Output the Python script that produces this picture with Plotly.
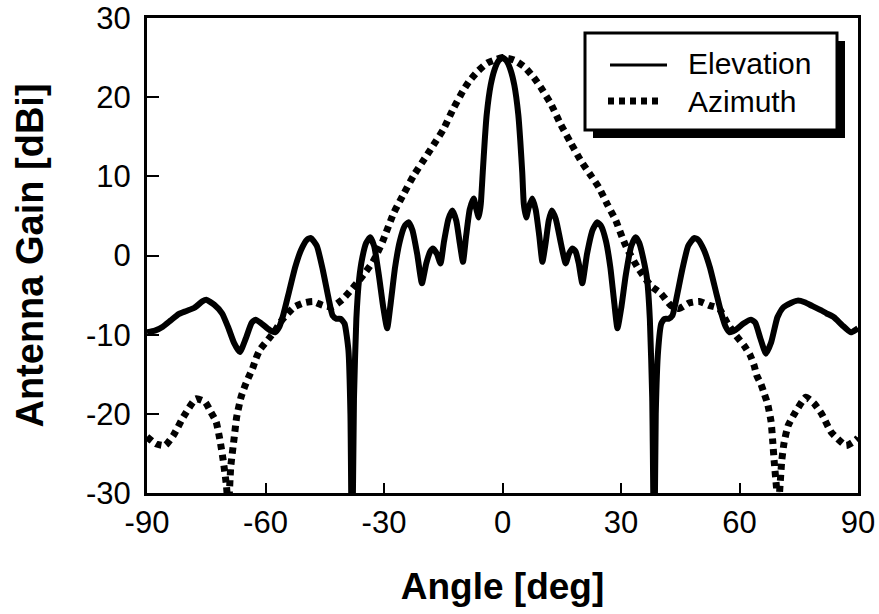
import plotly.graph_objects as go

# ---- data ----
elev_angle = [-90, -88, -86, -84, -82, -80, -78, -76, -75, -73, -71, -69.5, -68, -66.5, -65, -63.5, -62.5,
              -61, -59, -57.6, -56.5, -55.5, -54, -52.5, -51, -49.5, -48.5, -47, -45.5, -44, -43, -42, -41,
              -40, -39, -38.5, -38.1, -37.6, -37, -36.3, -35.5, -34.5, -33.5, -32.5, -31.3, -30.2, -29.2,
              -28.3, -27.2, -26, -24.8, -23.8, -22.8, -21.6, -20.4, -19.3, -18.3, -17.6, -16.6, -15.7,
              -14.8, -13.7, -12.7, -11.7, -10.8, -10.0, -9.2, -8.3, -7.3, -6.7, -6.0, -5.5, -5.0, -4.5,
              -4.0, -3.0, -2.0, -1.0, 0,
              1.0, 2.0, 3.0, 4.0, 4.5, 5.0, 5.4, 6.0, 6.6, 7.5, 8.4, 9.3, 10.1, 10.9, 11.7, 12.5, 13.5,
              14.8, 16.0, 16.8, 17.7, 18.5, 19.3, 20.2, 21.4, 22.8, 24.0, 25.0, 26.2, 27.3, 28.3, 29.1,
              30.1, 31.2, 32.6, 33.7, 34.6, 35.6, 36.6, 37.3, 37.9, 38.4, 38.8, 39.4, 40.2, 41.0, 42.0,
              43.0, 44.0, 45.5, 47.0, 48.5, 49.5, 51.0, 52.5, 54.0, 55.5, 56.5, 57.5, 59.0, 61.0, 62.9,
              64.0, 65.3, 66.7, 68.0, 69.6, 71.0, 73.0, 74.7, 76.5, 78.5, 80.6, 82.0, 83.9, 86.0, 88.2, 90]
elev_gain = [-9.7, -9.5, -9.0, -8.2, -7.4, -7.0, -6.6, -5.8, -5.6, -6.2, -7.3, -9.0, -11.0, -12.2, -10.5,
             -8.5, -8.1, -8.6, -9.4, -9.7, -9.0, -7.5, -4.5, -1.5, 0.7, 2.0, 2.2, 1.2, -1.8, -5.5, -7.6,
             -8.0, -8.0, -8.6, -12.0, -20.0, -40.0, -18.0, -8.0, -3.0, -0.3, 1.6, 2.3, 1.2, -2.5, -6.5,
             -9.2, -6.0, -1.5, 1.8, 3.7, 4.2, 3.2, 0.2, -3.5, -1.0, 0.5, 0.9, 0.2, -1.0, 1.8, 4.6, 5.7,
             4.4, 1.5, -0.8, 2.5, 5.8, 7.2, 6.0, 4.8, 6.5, 10.5, 14.5, 17.8, 21.5, 23.5, 24.6, 25.0,
             24.6, 23.5, 21.5, 17.8, 14.5, 10.5, 6.5, 4.8, 6.0, 7.2, 5.8, 2.5, -0.8, 1.5, 4.4, 5.7, 4.6,
             1.5, -1.0, 0.2, 0.9, 0.5, -1.0, -3.5, 0.2, 3.2, 4.2, 3.7, 1.8, -1.5, -6.0, -9.2, -6.5, -2.5,
             1.2, 2.3, 1.6, -0.3, -3.0, -8.0, -18.0, -40.0, -20.0, -12.0, -8.6, -8.0, -8.0, -7.6, -5.5,
             -1.8, 1.2, 2.2, 2.0, 0.7, -1.5, -4.5, -7.5, -9.0, -9.7, -9.4, -8.6, -8.1, -8.5, -10.5, -12.4,
             -11.0, -7.8, -6.6, -6.0, -5.7, -5.9, -6.4, -6.9, -7.3, -7.8, -8.8, -9.7, -9.2]

azim_angle = [-90, -87.7, -85.4, -83.3, -80.8, -77.6, -75.3, -73.8, -72.5, -71.5, -70.7, -69.9, -69.4,
              -68.8, -67.9, -67.3, -66.2, -65.3, -64.3, -63.3, -62.4, -61.4, -59.3, -57.6, -55.9, -52.7,
              -50.4, -48.0, -45.5, -43.2, -40.6, -38.4, -36.4, -34.7, -32.8, -30.4, -27.6, -25.0, -22.5,
              -19.5, -17.8, -14.9, -12.5, -10.0, -8.3, -6.2, -3.9, -1.5, 0,
              2.9, 5.6, 7.9, 9.6, 12.2, 14.7, 17.2, 19.8, 22.1, 24.4, 26.5, 28.7, 30.3, 31.6, 34.2, 37.5,
              40.1, 42.6, 44.7, 47.2, 49.8, 52.3, 54.8, 57.0, 59.1, 61.2, 62.7, 63.7, 64.4, 65.4, 66.3,
              67.1, 68.0, 68.4, 68.8, 69.4, 69.8, 70.7, 71.3, 72.3, 73.9, 76.8, 78.9, 80.8, 83.2, 87.0,
              89.5, 90]
azim_gain = [-22.9, -23.8, -24.0, -22.7, -20.4, -18.1, -18.5, -19.8, -21.0, -23.4, -25.9, -29.0, -32.0,
             -26.7, -22.9, -20.4, -17.9, -16.6, -15.4, -14.3, -13.0, -11.9, -10.6, -9.5, -8.2, -6.5,
             -6.0, -5.8, -6.3, -6.5, -5.6, -4.4, -3.2, -2.1, -0.8, 1.7, 5.3, 7.8, 10.1, 12.4, 13.7, 16.0,
             18.5, 20.8, 22.1, 23.3, 24.3, 24.8, 25.0,
             24.7, 23.8, 22.5, 21.3, 19.2, 16.6, 14.3, 12.0, 10.3, 8.6, 6.5, 4.4, 2.3, 0.8, -1.5, -3.8,
             -4.8, -6.3, -6.7, -6.0, -5.8, -6.3, -6.7, -8.6, -10.1, -11.4, -12.6, -13.9, -15.2, -16.2,
             -17.5, -18.7, -21.0, -23.4, -26.1, -29.5, -32.0, -25.9, -23.6, -21.5, -20.0, -17.9, -18.7,
             -20.0, -22.3, -24.0, -23.3, -23.0]

series_names = ["Elevation", "Azimuth"]
x_ticks = [-90, -60, -30, 0, 30, 60, 90]
x_tick_text = ["-90", "-60", "-30", "0", "30", "60", "90"]
y_ticks = [-30, -20, -10, 0, 10, 20, 30]
y_tick_text = ["-30", "-20", "-10", "0", "10", "20", "30"]

# ---- figure ----
W, H = 879, 614
L, R, T, B = 147, 21, 18, 121
PW, PH = W - L - R, H - T - B

def px(x):
    return (x - L) / PW

def py(y):
    return (H - B - y) / PH

FONT = "Liberation Sans, Arial, sans-serif"
DOT = "6px,5px"

fig = go.Figure()
fig.add_trace(go.Scatter(x=azim_angle, y=azim_gain, mode="lines", name=series_names[1],
                         line=dict(color="black", width=7, dash=DOT, shape="spline", smoothing=0.5),
                         showlegend=False))
fig.add_trace(go.Scatter(x=elev_angle, y=elev_gain, mode="lines", name=series_names[0],
                         line=dict(color="black", width=6, shape="spline", smoothing=0.5),
                         showlegend=False))

axis_common = dict(showline=True, mirror=True, linecolor="black", linewidth=3, automargin=False,
                   ticks="inside", tickcolor="black", tickwidth=2, showgrid=False, zeroline=False,
                   tickfont=dict(family=FONT, size=31, color="black"))

fig.update_xaxes(range=[-90, 90], tickvals=x_ticks, ticktext=x_tick_text, ticklen=10,
                 ticklabelstandoff=0,
                 title=dict(text="Angle [deg]", standoff=34,
                            font=dict(family=FONT, size=37, color="black", weight="bold")),
                 **axis_common)
fig.update_yaxes(range=[-30, 30], tickvals=y_ticks, ticktext=y_tick_text, ticklen=12,
                 ticklabelstandoff=7,
                 title=dict(text="Antenna Gain [dBi]", standoff=31,
                            font=dict(family=FONT, size=38, color="black", weight="bold")),
                 **axis_common)

# legend box with shadow
shapes = [
    dict(type="rect", xref="paper", yref="paper", x0=px(593), x1=px(845), y0=py(138), y1=py(41),
         fillcolor="black", line=dict(width=0)),
    dict(type="rect", xref="paper", yref="paper", x0=px(585), x1=px(837), y0=py(130), y1=py(33),
         fillcolor="white", line=dict(color="black", width=3)),
    dict(type="line", xref="paper", yref="paper", x0=px(610), x1=px(667), y0=py(65), y1=py(65),
         line=dict(color="black", width=3)),
    dict(type="line", xref="paper", yref="paper", x0=px(608), x1=px(662), y0=py(101), y1=py(101),
         line=dict(color="black", width=7, dash=DOT)),
]
annotations = [
    dict(xref="paper", yref="paper", x=px(686), y=py(64), text=series_names[0], showarrow=False,
         xanchor="left", yanchor="middle", font=dict(family=FONT, size=30, color="black")),
    dict(xref="paper", yref="paper", x=px(686), y=py(101), text=series_names[1], showarrow=False,
         xanchor="left", yanchor="middle", font=dict(family=FONT, size=30, color="black")),
]

fig.update_layout(width=W, height=H, margin=dict(l=L, r=R, t=T, b=B),
                  plot_bgcolor="white", paper_bgcolor="white",
                  shapes=shapes, annotations=annotations, showlegend=False)

fig.write_html("out.html")
